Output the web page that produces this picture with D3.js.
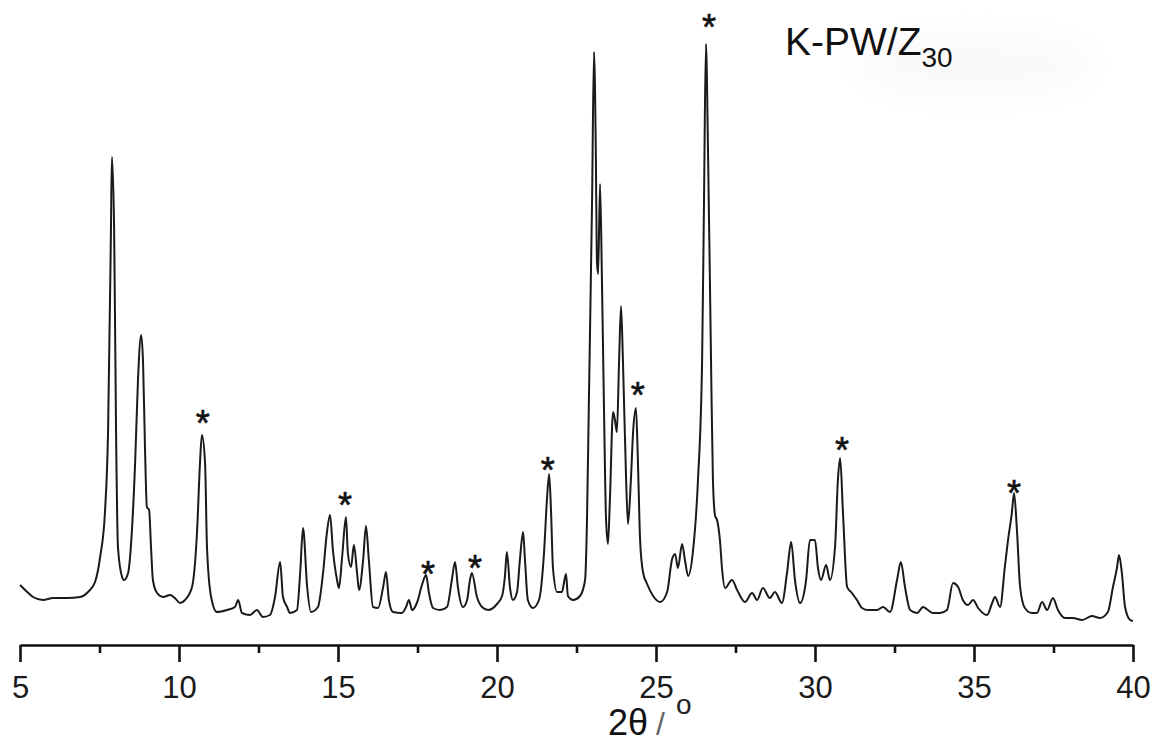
<!DOCTYPE html>
<html>
<head>
<meta charset="utf-8">
<script src="https://cdn.jsdelivr.net/npm/d3@7"></script>
<style>
  body { margin: 0; background: #fff; }
  svg { display: block; }
  .axis text { font-family: "Liberation Sans", Arial, sans-serif; }
</style>
</head>
<body>
<div class="wrapper"></div>
<script>
// XRD trace: [2theta (deg), intensity (a.u.)]
var xrdPattern = [
  [5.00, 55], [5.16, 50], [5.41, 43], [5.72, 40], [6.04, 42], [6.48, 42], [6.89, 43], [7.14, 48],
  [7.36, 58], [7.52, 83], [7.67, 127], [7.77, 210], [7.86, 410], [7.89, 483], [7.96, 410], [8.02, 210],
  [8.08, 93], [8.21, 63], [8.27, 60], [8.40, 67], [8.52, 110], [8.62, 177], [8.71, 260], [8.81, 305],
  [8.87, 277], [8.93, 193], [8.99, 133], [9.06, 130], [9.12, 93], [9.18, 60], [9.31, 47], [9.50, 43],
  [9.72, 45], [9.87, 42], [10.03, 37], [10.19, 40], [10.41, 53], [10.57, 110], [10.66, 177], [10.72, 205],
  [10.82, 177], [10.88, 93], [11.01, 43], [11.19, 28], [11.51, 30], [11.76, 33], [11.86, 40], [11.98, 27],
  [12.23, 25], [12.45, 30], [12.64, 23], [12.86, 25], [13.02, 43], [13.18, 78], [13.27, 43], [13.40, 33],
  [13.49, 27], [13.71, 30], [13.81, 67], [13.90, 112], [14.03, 53], [14.15, 28], [14.37, 33], [14.53, 67],
  [14.65, 107], [14.75, 125], [14.84, 90], [14.97, 60], [15.03, 52], [15.13, 83], [15.25, 123], [15.31, 87],
  [15.41, 73], [15.50, 95], [15.60, 67], [15.66, 50], [15.79, 80], [15.88, 114], [15.97, 80], [16.10, 33],
  [16.26, 32], [16.42, 53], [16.51, 68], [16.60, 40], [16.73, 28], [17.01, 27], [17.14, 33], [17.23, 40],
  [17.33, 30], [17.48, 37], [17.64, 55], [17.77, 65], [17.86, 47], [17.99, 32], [18.21, 30], [18.43, 33],
  [18.58, 60], [18.68, 78], [18.77, 53], [18.93, 33], [19.06, 40], [19.15, 60], [19.21, 67], [19.37, 43],
  [19.53, 33], [19.72, 30], [20.00, 36], [20.16, 44], [20.25, 64], [20.31, 88], [20.41, 52], [20.50, 40],
  [20.63, 48], [20.72, 80], [20.82, 108], [20.88, 80], [20.97, 40], [21.13, 32], [21.32, 40], [21.48, 88],
  [21.57, 140], [21.64, 166], [21.70, 128], [21.76, 72], [21.89, 48], [22.04, 48], [22.17, 66], [22.23, 44],
  [22.39, 40], [22.61, 44], [22.77, 60], [22.83, 120], [22.89, 240], [22.99, 440], [23.05, 588], [23.11, 480],
  [23.14, 380], [23.18, 366], [23.24, 456], [23.30, 360], [23.36, 240], [23.43, 120], [23.49, 96], [23.55, 140],
  [23.65, 228], [23.71, 220], [23.77, 208], [23.84, 280], [23.90, 334], [23.96, 280], [24.06, 160], [24.12, 116],
  [24.21, 160], [24.28, 208], [24.37, 232], [24.43, 180], [24.50, 100], [24.59, 68], [24.72, 56], [24.91, 44],
  [25.13, 38], [25.35, 48], [25.50, 80], [25.60, 86], [25.69, 72], [25.82, 96], [25.91, 80], [26.01, 64],
  [26.16, 88], [26.32, 160], [26.45, 280], [26.51, 440], [26.57, 596], [26.64, 480], [26.73, 280], [26.79, 160],
  [26.86, 124], [26.92, 120], [27.01, 100], [27.08, 70], [27.17, 52], [27.39, 60], [27.55, 50], [27.80, 38],
  [28.02, 47], [28.18, 40], [28.36, 52], [28.58, 42], [28.74, 48], [28.96, 37], [29.12, 67], [29.25, 98],
  [29.37, 60], [29.53, 37], [29.72, 60], [29.84, 100], [30.00, 100], [30.09, 73], [30.19, 60], [30.35, 75],
  [30.47, 60], [30.63, 93], [30.72, 160], [30.79, 182], [30.88, 127], [31.01, 53], [31.16, 47], [31.32, 40],
  [31.48, 32], [31.67, 30], [31.95, 30], [32.14, 33], [32.36, 28], [32.58, 60], [32.70, 78], [32.83, 53],
  [32.99, 30], [33.21, 27], [33.40, 33], [33.55, 30], [33.71, 27], [33.93, 27], [34.15, 30], [34.34, 57],
  [34.50, 53], [34.65, 40], [34.81, 35], [34.97, 40], [35.13, 32], [35.41, 25], [35.57, 37], [35.66, 43],
  [35.82, 33], [35.97, 73], [36.07, 100], [36.19, 127], [36.26, 147], [36.35, 110], [36.45, 53], [36.60, 32],
  [36.82, 27], [36.98, 27], [37.14, 38], [37.30, 30], [37.48, 42], [37.64, 30], [37.86, 22], [38.11, 22],
  [38.40, 20], [38.71, 24], [38.96, 22], [39.21, 28], [39.37, 53], [39.50, 73], [39.56, 85], [39.65, 67],
  [39.75, 33], [39.91, 20], [40.00, 19]
];

// reflections marked with "*" (2theta, level of the mark)
var starTheta = [10.75, 15.22, 17.83, 19.31, 21.60, 24.43, 26.67, 30.85, 36.26];
var starLevel = [225, 143, 74, 80, 178, 253, 621, 198, 155];

var majorTicks = [5, 10, 15, 20, 25, 30, 35, 40];
var minorTicks = [7.5, 12.5, 17.5, 22.5, 27.5, 32.5, 37.5];

var width = 1157,
  height = 743;

var svg = d3.select(".wrapper")
  .append("svg")
    .attr("width", width)
    .attr("height", height);

var x = d3.scaleLinear()
  .domain([5, 40])
  .range([20, 1133]);

var y = d3.scaleLinear()
  .domain([0, 620])
  .range([640, 20]);

var font = "'Liberation Sans', Arial, sans-serif";

// faint smudge behind the sample label (scan artefact in the original)
var defs = svg.append("defs");
defs.append("filter")
    .attr("id", "blur")
    .attr("x", "-50%").attr("y", "-50%")
    .attr("width", "200%").attr("height", "200%")
  .append("feGaussianBlur")
    .attr("stdDeviation", 16);
svg.append("ellipse")
  .attr("cx", 975)
  .attr("cy", 65)
  .attr("rx", 120)
  .attr("ry", 32)
  .attr("fill", "#f9f9f9")
  .attr("filter", "url(#blur)");

// pattern
var line = d3.line()
  .x(function(d) { return x(d[0]); })
  .y(function(d) { return y(d[1]); })
  .curve(d3.curveMonotoneX);

svg.append("path")
  .datum(xrdPattern)
  .attr("fill", "none")
  .attr("stroke", "#1a1a1a")
  .attr("stroke-width", 2)
  .attr("stroke-linejoin", "round")
  .attr("d", line);

// asterisks
svg.append("g")
  .selectAll("text")
  .data(starTheta)
  .enter().append("text")
    .attr("x", function(d) { return x(d); })
    .attr("y", function(d, i) { return y(starLevel[i]) + 21; })
    .attr("text-anchor", "middle")
    .attr("font-family", font)
    .attr("font-size", 36)
    .attr("fill", "#111")
    .attr("stroke", "#111")
    .attr("stroke-width", 0.6)
    .text("*");

// x axis, major ticks with labels
var axisY = 645;
var xAxis = svg.append("g")
  .attr("class", "axis")
  .attr("transform", "translate(0," + axisY + ")")
  .call(d3.axisBottom(x)
    .tickValues(majorTicks)
    .tickSize(17)
    .tickSizeOuter(0)
    .tickPadding(14)
    .tickFormat(d3.format("d")));

xAxis.select(".domain")
  .attr("stroke", "#111")
  .attr("stroke-width", 2.6);
xAxis.selectAll(".tick line")
  .attr("stroke", "#111")
  .attr("stroke-width", 2.6);
xAxis.selectAll(".tick text")
  .attr("font-size", 31)
  .attr("fill", "#1a1a1a");

// minor ticks
var minorAxis = svg.append("g")
  .attr("class", "axis")
  .attr("transform", "translate(0," + axisY + ")")
  .call(d3.axisBottom(x)
    .tickValues(minorTicks)
    .tickSize(8)
    .tickFormat(""));
minorAxis.select(".domain").remove();
minorAxis.selectAll(".tick line")
  .attr("stroke", "#111")
  .attr("stroke-width", 2.6);

// axis title: 2θ / °
svg.append("text")
  .attr("x", 608)
  .attr("y", 735)
  .attr("font-family", font)
  .attr("font-size", 36)
  .attr("fill", "#111")
  .text("2θ");
svg.append("text")
  .attr("x", 656)
  .attr("y", 735)
  .attr("font-family", font)
  .attr("font-size", 32)
  .attr("fill", "#666")
  .text("/");
svg.append("text")
  .attr("x", 676)
  .attr("y", 714)
  .attr("font-family", font)
  .attr("font-size", 28)
  .attr("fill", "#222")
  .text("o");

// sample label
var label = svg.append("text")
  .attr("x", 785)
  .attr("y", 55)
  .attr("font-family", font)
  .attr("font-size", 39)
  .attr("fill", "#111");
label.append("tspan").text("K-PW/Z");
label.append("tspan")
  .attr("font-size", 28)
  .attr("dy", 12)
  .text("30");
</script>
</body>
</html>
